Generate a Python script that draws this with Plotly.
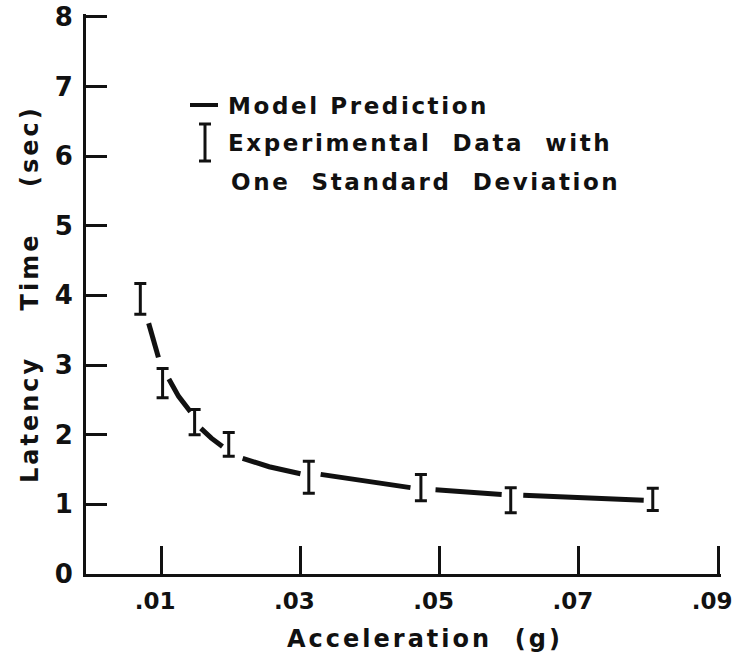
import plotly.graph_objects as go

# Experimental data (acceleration in g, latency in sec, one standard deviation)
exp_x = [0.0070, 0.0102, 0.0148, 0.0197, 0.0312, 0.0473, 0.0602, 0.0806]
exp_y = [3.95, 2.74, 2.18, 1.86, 1.39, 1.24, 1.06, 1.07]
exp_sd = [0.22, 0.21, 0.18, 0.17, 0.23, 0.19, 0.18, 0.16]

# Model prediction curve (broken into segments around the error bars; None = gap)
model_x = [0.0082, 0.0089, 0.0096, None,
           0.0111, 0.0125, 0.0142, None,
           0.0157, 0.0172, 0.0188, None,
           0.0217, 0.0255, 0.0300, None,
           0.0329, 0.0400, 0.0458, None,
           0.0494, 0.0540, 0.0589, None,
           0.0620, 0.0700, 0.0793]
model_y = [3.60, 3.33, 3.11, None,
           2.80, 2.55, 2.33, None,
           2.09, 1.95, 1.83, None,
           1.66, 1.54, 1.44, None,
           1.43, 1.32, 1.24, None,
           1.21, 1.17, 1.14, None,
           1.13, 1.09, 1.06]

x_tickvals = [0.01, 0.03, 0.05, 0.07, 0.09]
x_ticktext = [".01", ".03", ".05", ".07", ".09"]
y_tickvals = [0, 1, 2, 3, 4, 5, 6, 7, 8]
y_ticktext = ["0", "1", "2", "3", "4", "5", "6", "7", "8"]

INK = "#111111"
FONT = "DejaVu Sans"

fig = go.Figure()

fig.add_trace(go.Scatter(
    x=model_x, y=model_y, mode="lines",
    line=dict(color=INK, width=5),
    connectgaps=False, showlegend=False, hoverinfo="skip",
))

fig.add_trace(go.Scatter(
    x=exp_x, y=exp_y, mode="markers",
    marker=dict(size=1, color="rgba(0,0,0,0)"),
    error_y=dict(type="data", array=exp_sd, visible=True,
                 color=INK, thickness=3, width=6),
    showlegend=False,
))

W, H = 736, 662
L, R, T, B = 86, 15, 14, 88
pw, ph = W - L - R, H - T - B


def px(x):
    return (x - L) / pw


def py(y):
    return (H - B - y) / ph


fig.update_layout(
    width=W, height=H,
    margin=dict(l=L, r=R, t=T, b=B, autoexpand=False),
    plot_bgcolor="white", paper_bgcolor="white",
    font=dict(family=FONT, color=INK, size=22, weight="bold"),
    xaxis=dict(
        range=[-0.0008, 0.0904], showgrid=False, zeroline=False,
        showline=True, linecolor=INK, linewidth=3,
        ticks="inside", ticklen=28, tickwidth=2.5, tickcolor=INK,
        tickvals=x_tickvals, ticktext=x_ticktext,
        tickfont=dict(size=23, family=FONT, weight="bold"),
        ticklabelstandoff=4, ticklabelshift=-6,
        ticklabeloverflow="allow", automargin=False,
    ),
    yaxis=dict(
        range=[0, 8.04], showgrid=False, zeroline=False,
        showline=True, linecolor=INK, linewidth=3,
        ticks="inside", ticklen=21, tickwidth=2.5, tickcolor=INK,
        tickvals=y_tickvals, ticktext=y_ticktext,
        tickfont=dict(size=26, family=FONT, weight="bold"),
        ticklabelstandoff=5, ticklabeloverflow="allow", automargin=False,
    ),
)

sp = "letter-spacing:2.6px"
annos = [
    dict(x=px(226), y=py(106), text=f'<span style="{sp}">Model Prediction</span>',
         xanchor="left", yanchor="middle"),
    dict(x=px(226), y=py(143), text=f'<span style="{sp}">Experimental\u00a0 Data\u00a0 with</span>',
         xanchor="left", yanchor="middle"),
    dict(x=px(229), y=py(182), text=f'<span style="{sp}">One\u00a0 Standard\u00a0 Deviation</span>',
         xanchor="left", yanchor="middle"),
    dict(x=px(425), y=py(639), text='<span style="letter-spacing:3px">Acceleration\u00a0 (g)</span>',
         xanchor="center", yanchor="middle", font=dict(size=24)),
    dict(x=px(30), y=py(294),
         text='<span style="letter-spacing:3px">Latency\u00a0\u00a0 \u00a0Time\u00a0\u00a0 \u00a0(sec)</span>',
         textangle=-90, xanchor="center", yanchor="middle", font=dict(size=24)),
]
for a in annos:
    a.update(xref="paper", yref="paper", showarrow=False)
    a.setdefault("font", dict(size=23))
    a["font"].setdefault("family", FONT)
    a["font"].setdefault("weight", "bold")
    a["font"].setdefault("color", INK)
    fig.add_annotation(**a)

# legend symbols
fig.add_shape(type="line", xref="paper", yref="paper",
              x0=px(190), x1=px(218), y0=py(105), y1=py(105),
              line=dict(color=INK, width=4))
fig.add_shape(type="line", xref="paper", yref="paper",
              x0=px(205), x1=px(205), y0=py(124), y1=py(161),
              line=dict(color=INK, width=3))
for yy in (124, 161):
    fig.add_shape(type="line", xref="paper", yref="paper",
                  x0=px(199), x1=px(211), y0=py(yy), y1=py(yy),
                  line=dict(color=INK, width=3))

fig.write_html("out.html")
